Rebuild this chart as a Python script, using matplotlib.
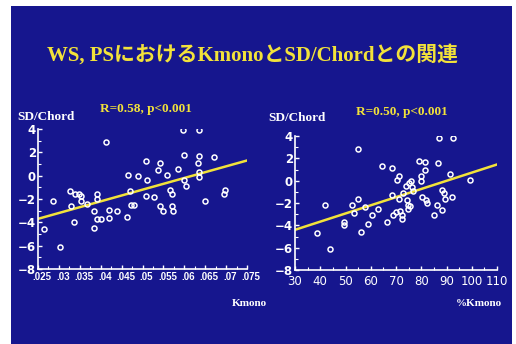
import numpy as np
import matplotlib
matplotlib.use('Agg')
import matplotlib.pyplot as plt
import matplotlib.transforms as mtransforms
from matplotlib.patches import Rectangle
from matplotlib.ticker import MultipleLocator, FuncFormatter

BG = '#16168e'
YEL = '#f2e23a'

# left panel: Kmono vs SD/Chord
kmono = [.0264, .0286, .0302, .0326, .0328, .0337, .0338, .0347, .0354, .0352,
         .0368, .0390, .0390, .0384, .0384, .0392, .0400, .0412, .0420, .0420,
         .0440, .0464, .0466, .0470, .0472, .0480, .0490, .0508, .0510, .0508,
         .0528, .0542, .0538, .0542, .0548, .0558, .0566, .0570, .0570, .0572,
         .0584, .0596, .0600, .0599, .0603, .0634, .0634, .0632, .0636, .0636,
         .0650, .0672, .0698, .0696]
sd_left = [-4.6, -2.15, -6.1, -1.3, -2.6, -4.0, -1.6, -1.6, -1.7, -2.2,
           -2.4, -1.6, -2.0, -3.0, -4.5, -3.7, -3.7, 2.9, -2.9, -3.6,
           -3.0, -3.5, 0.1, -1.3, -2.5, -2.5, 0.0, 1.3, -0.4, -1.7,
           -1.8, 1.1, 0.5, -2.6, -3.0, 0.1, -1.2, -1.6, -2.6, -3.0,
           0.6, 3.9, 1.8, -0.4, -0.9, 3.9, 1.7, 1.1, 0.3, -0.1,
           -2.2, 1.6, -1.2, -1.6]
line_left_x = [.025, .075]
line_left_y = [-3.7, 1.3]

# right panel: %Kmono vs SD/Chord
pkmono = [38.6, 41.9, 43.9, 49.6, 49.6, 52.6, 53.5, 54.8, 54.8, 56.2,
          57.7, 58.8, 60.5, 62.8, 64.5, 66.5, 68.4, 68.4, 69.0, 70.0,
          70.3, 71.1, 71.1, 71.6, 72.4, 72.4, 72.6, 74.0, 74.3, 74.6,
          74.6, 75.3, 75.6, 76.0, 76.3, 76.6, 79.0, 81.3, 80.0, 80.0,
          80.3, 81.3, 81.9, 82.3, 85.2, 86.3, 86.5, 87.2, 88.1, 88.3,
          89.2, 89.4, 91.2, 92.2, 92.5, 99.4]
sd_right = [-4.7, -2.2, -6.1, -3.7, -4.0, -2.2, -2.9, 2.8, -1.6, -4.6,
            -2.4, -3.9, -3.1, -2.5, 1.3, -3.7, 1.1, -1.3, -3.1, -2.8,
            0.1, 0.4, -1.6, -2.7, -3.1, -3.4, -1.1, -0.5, -1.7, -2.2,
            -2.5, -0.2, -2.3, 0.0, -0.6, -0.9, 1.8, 1.7, 0.4, 0.0,
            -1.5, 1.0, -1.7, -2.0, -3.1, -2.2, 1.6, 3.85, -0.8, -2.6,
            -1.1, -1.6, 0.6, -1.5, 3.85, 0.1]
line_right_x = [30, 110]
line_right_y = [-4.4, 1.45]

fig = plt.figure(figsize=(5.16, 3.44), dpi=100, facecolor='white')
fig.patches.append(Rectangle((11 / 516, 0), 501 / 516, 1 - 6 / 344,
                             transform=fig.transFigure, facecolor=BG,
                             edgecolor='none', zorder=-10))

fig.text(0.49, 1 - 55 / 344, 'WS, PSにおけるKmonoとSD/Chordとの関連',
         color=YEL, fontsize=15, fontweight='bold', ha='center', va='center',
         family=['Liberation Serif', 'Noto Sans CJK JP'])


def style_ax(ax):
    ax.set_facecolor('none')
    for s in ['top', 'right']:
        ax.spines[s].set_visible(False)
    for s in ['left', 'bottom']:
        ax.spines[s].set_color('white')
        ax.spines[s].set_linewidth(1.2)
    ax.tick_params(which='both', colors='white', direction='in')
    ax.tick_params(which='major', length=3, width=1)
    ax.tick_params(which='minor', length=2, width=0.8)
    ax.tick_params(axis='y', pad=1.5)
    ax.set_ylim(-8, 4)
    ax.yaxis.set_major_locator(MultipleLocator(2))
    ax.yaxis.set_minor_locator(MultipleLocator(1))
    for lb in ax.get_yticklabels():
        lb.set_fontweight('bold')
        lb.set_fontsize(8.5)
        lb.set_color('white')


ax1 = fig.add_axes([38 / 516, 1 - 269 / 344, 209 / 516, 140 / 344])
ax1.plot(line_left_x, line_left_y, color=YEL, lw=1.8, zorder=2)
ax1.plot(kmono, sd_left, 'o', mfc='none', mec='white', ms=3.6, mew=1.1, zorder=3)
ax1.set_xlim(.025, .075)
ax1.set_xticks(np.arange(.025, .0751, .005))
ax1.xaxis.set_minor_locator(MultipleLocator(.0025))
ax1.xaxis.set_major_formatter(FuncFormatter(lambda v, p: ('%g' % round(v, 4)).lstrip('0')))
style_ax(ax1)
ax1.tick_params(axis='x', pad=2)
shift = mtransforms.ScaledTranslation(4 / 100, 0, fig.dpi_scale_trans)
for lb in ax1.get_xticklabels():
    lb.set_fontweight('bold')
    lb.set_fontsize(7)
    lb.set_family('Liberation Sans')
    lb.set_color('white')
    lb.set_transform(lb.get_transform() + shift)

ax2 = fig.add_axes([295 / 516, 1 - 270 / 344, 202 / 516, 134 / 344])
ax2.plot(line_right_x, line_right_y, color=YEL, lw=1.8, zorder=2)
ax2.plot(pkmono, sd_right, 'o', mfc='none', mec='white', ms=3.6, mew=1.1, zorder=3)
ax2.set_xlim(30, 110)
ax2.set_xticks(np.arange(30, 111, 10))
ax2.xaxis.set_minor_locator(MultipleLocator(5))
style_ax(ax2)
for lb in ax2.get_xticklabels():
    lb.set_fontsize(8.5)
    lb.set_color('white')

serif = ['Liberation Serif']
fig.text(17 / 516, 1 - 117 / 344, 'SD/Chord', color='white', fontsize=9.5,
         fontweight='bold', family=serif, va='center')
fig.text(268 / 516, 1 - 118 / 344, 'SD/Chord', color='white', fontsize=9.5,
         fontweight='bold', family=serif, va='center')
fig.text(100 / 516, 1 - 109 / 344, 'R=0.58, p<0.001', color=YEL, fontsize=9.5,
         fontweight='bold', family=serif, va='center')
fig.text(356 / 516, 1 - 112 / 344, 'R=0.50, p<0.001', color=YEL, fontsize=9.5,
         fontweight='bold', family=serif, va='center')
fig.text(267 / 516, 1 - 303 / 344, 'Kmono', color='white', fontsize=8,
         fontweight='bold', family=serif, ha='right', va='center')
fig.text(502 / 516, 1 - 303 / 344, '%Kmono', color='white', fontsize=8,
         fontweight='bold', family=serif, ha='right', va='center')

fig.savefig('out.png', dpi=100, facecolor='white')
